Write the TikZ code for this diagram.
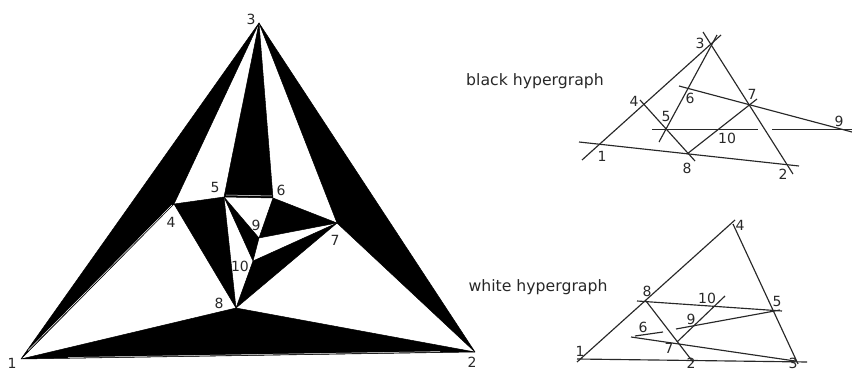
\documentclass[tikz,border=0pt]{standalone}
\usepackage{fontspec}
\setmainfont{DejaVu Sans}
\definecolor{lineGray}{RGB}{40,40,40}
\definecolor{textGray}{RGB}{40,40,40}
\begin{document}
\begin{tikzpicture}[
        x=1pt,y=-1pt,
        every node/.style={font=\fontsize{14}{16}\selectfont, text=textGray, inner sep=0pt},
        caption/.style={font=\fontsize{15.7}{18}\selectfont},
        face/.style={fill=black, draw=black, line width=0.5pt, line join=round},
        sliver/.style={draw=white, line width=0.5pt},
        hyper/.style={draw=lineGray, line width=1.15pt}
      ]
        \useasboundingbox (0,0) rectangle (852,371);
        % Vertices of the big triangle
        \coordinate (v1) at (21,359);
        \coordinate (v2) at (475,352);
        \coordinate (v3) at (259,23);
        \coordinate (v4) at (174,204);
        \coordinate (v5) at (224,197);
        \coordinate (v6) at (273,198);
        \coordinate (v7) at (337,223);
        \coordinate (v8) at (236,308);
        \coordinate (v9) at (259,238);
        \coordinate (v10) at (253,261);
        % Black faces
        \filldraw[face] (v1) -- (v3) -- (v4) -- cycle;
        \filldraw[face] (v3) -- (v5) -- (v6) -- cycle;
        \filldraw[face] (v3) -- (v7) -- (v2) -- cycle;
        \filldraw[face] (v1) -- (v8) -- (v2) -- cycle;
        \filldraw[face] (v4) -- (v5) -- (v8) -- cycle;
        \filldraw[face] (v5) -- (v9) -- (v10) -- cycle;
        \filldraw[face] (v6) -- (v7) -- (v9) -- cycle;
        \filldraw[face] (v7) -- (v10) -- (v8) -- cycle;
        % Thin light seams along some edges
        \draw[sliver] (28,350.5) -- (172,205);
        \draw[sliver] (68,357.5) -- (440,351.6);
        \draw[sliver] (226,195) -- (272,196);
        % Labels of the big triangle
        \node (m1) at (12,363) {1};
        \node (m2) at (472,362) {2};
        \node (m3) at (251,19) {3};
        \node (m4) at (171,222) {4};
        \node (m5) at (215,187) {5};
        \node (m6) at (281,190) {6};
        \node (m7) at (335,240) {7};
        \node (m8) at (219,303) {8};
        \node (m9) at (256,225) {9};
        \node (m10) at (240,266) {10};
        % Black hypergraph
        \node[caption] (blackcap) at (535,81) {black hypergraph};
        \coordinate (ba1) at (582,160); \coordinate (ba2) at (721,35);
        \draw[hyper] (ba1) -- (ba2);
        \coordinate (bb1) at (659,142); \coordinate (bb2) at (717,35);
        \draw[hyper] (bb1) -- (bb2);
        \coordinate (bc1) at (703,32); \coordinate (bc2) at (793,174);
        \draw[hyper] (bc1) -- (bc2);
        \coordinate (bd1) at (579,142); \coordinate (bd2) at (799,166);
        \draw[hyper] (bd1) -- (bd2);
        \coordinate (be1) at (640,100); \coordinate (be2) at (695,161);
        \draw[hyper] (be1) -- (be2);
        \coordinate (bf1) at (679,86); \coordinate (bf2) at (852,132);
        \draw[hyper] (bf1) -- (bf2);
        \coordinate (bg1) at (652,129.5); \coordinate (bg2) at (758,129.5);
        \draw[hyper] (bg1) -- (bg2);
        \coordinate (bh1) at (772,129.5); \coordinate (bh2) at (852,129.5);
        \draw[hyper] (bh1) -- (bh2);
        \coordinate (bi1) at (687,154); \coordinate (bi2) at (757,99);
        \draw[hyper] (bi1) -- (bi2);
        \node (b1) at (602,156) {1};
        \node (b2) at (783,174) {2};
        \node (b3) at (700,43) {3};
        \node (b4) at (634,101) {4};
        \node (b5) at (666,116) {5};
        \node (b6) at (690,98) {6};
        \node (b7) at (752,94) {7};
        \node (b8) at (687,168) {8};
        \node (b9) at (839,121) {9};
        \node (b10) at (727,138) {10};
        % White hypergraph
        \node[caption] (whitecap) at (538,287) {white hypergraph};
        \coordinate (wa1) at (577,362); \coordinate (wa2) at (735,220);
        \draw[hyper] (wa1) -- (wa2);
        \coordinate (wb1) at (733,224); \coordinate (wb2) at (798,364);
        \draw[hyper] (wb1) -- (wb2);
        \coordinate (wc1) at (577,359); \coordinate (wc2) at (807,362);
        \draw[hyper] (wc1) -- (wc2);
        \coordinate (wd1) at (646,301); \coordinate (wd2) at (693,362);
        \draw[hyper] (wd1) -- (wd2);
        \coordinate (we1) at (637,301); \coordinate (we2) at (782,311);
        \draw[hyper] (we1) -- (we2);
        \coordinate (wf1) at (676,329); \coordinate (wf2) at (780,310);
        \draw[hyper] (wf1) -- (wf2);
        \coordinate (wg1) at (631,337); \coordinate (wg2) at (795,361);
        \draw[hyper] (wg1) -- (wg2);
        \coordinate (wh1) at (635,336); \coordinate (wh2) at (663,332);
        \draw[hyper] (wh1) -- (wh2);
        \coordinate (wi1) at (677,342); \coordinate (wi2) at (725,296);
        \draw[hyper] (wi1) -- (wi2);
        \node (w1) at (580,351) {1};
        \node (w2) at (691,363) {2};
        \node (w3) at (793,363) {3};
        \node (w4) at (740,225) {4};
        \node (w5) at (777,301) {5};
        \node (w6) at (643,327) {6};
        \node (w7) at (669,348) {7};
        \node (w8) at (647,291) {8};
        \node (w9) at (691,319) {9};
        \node (w10) at (707,298) {10};
      \end{tikzpicture}
\end{document}
